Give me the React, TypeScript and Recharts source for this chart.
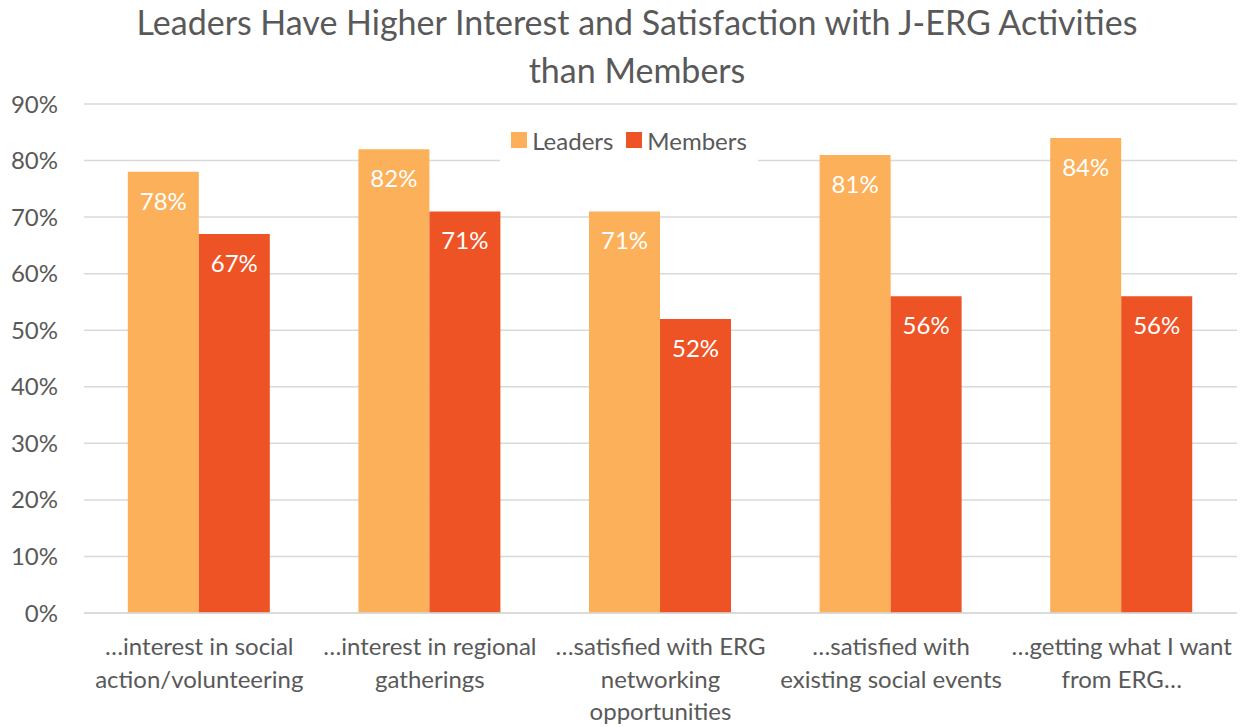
import React from 'react';
import { BarChart, Bar, XAxis, YAxis, CartesianGrid, LabelList } from 'recharts';

const categories = [
  '…interest in social\naction/volunteering',
  '…interest in regional\ngatherings',
  '…satisfied with ERG\nnetworking\nopportunities',
  '…satisfied with\nexisting social events',
  '…getting what I want\nfrom ERG…',
];
const leaders = [78, 82, 71, 81, 84];
const members = [67, 71, 52, 56, 56];
const yTicks = [0, 10, 20, 30, 40, 50, 60, 70, 80, 90];

const data = categories.map((name, i) => ({ name, leaders: leaders[i], members: members[i] }));

const FONT = 'Lato, "Open Sans", sans-serif';
const TEXT = '#595959';
const LEADER_COLOR = '#FCB05A';
const MEMBER_COLOR = '#EE5325';

function CategoryTick(props: any) {
  const { x, y, payload } = props;
  const lines = String(payload.value).split('\n');
  return (
    <text x={x} y={y} textAnchor="middle" fill={TEXT} fontSize={24} fontFamily={FONT}>
      {lines.map((line, i) => (
        <tspan key={i} x={x} dy={i === 0 ? 34 : 32.5}>
          {line}
        </tspan>
      ))}
    </text>
  );
}

// legend sits on top of the plot with a white box hiding the 80% gridline
function LegendBox() {
  const items = [
    { label: 'Leaders', color: LEADER_COLOR },
    { label: 'Members', color: MEMBER_COLOR },
  ];
  return (
    <div
      style={{
        position: 'absolute',
        top: 117,
        left: 500,
        width: 258,
        height: 46,
        display: 'flex',
        justifyContent: 'center',
        alignItems: 'center',
        gap: 13,
        background: '#fff',
        fontFamily: FONT,
        fontSize: 24,
        color: TEXT,
      }}
    >
      {items.map((it) => (
        <div key={it.label} style={{ display: 'flex', alignItems: 'center', gap: 5 }}>
          <span style={{ width: 16, height: 16, background: it.color, display: 'inline-block' }} />
          <span>{it.label}</span>
        </div>
      ))}
    </div>
  );
}

export default function App() {
  return (
    <div style={{ position: 'absolute', left: 0, top: 0, width: 1252, height: 727, background: '#fff' }}>
      <div
        style={{
          position: 'absolute',
          left: 11,
          top: -2,
          width: 1252,
          textAlign: 'center',
          fontFamily: FONT,
          fontSize: 34,
          lineHeight: '48px',
          color: TEXT,
        }}
      >
        Leaders Have Higher Interest and Satisfaction with J-ERG Activities
        <br />
        than Members
      </div>
      <div style={{ position: 'absolute', left: 0, top: 0 }}>
        <BarChart
          width={1252}
          height={727}
          data={data}
          margin={{ top: 104, right: 15, bottom: 0, left: 0 }}
          barCategoryGap="19%"
          barGap={0}
        >
          <CartesianGrid vertical={false} stroke="#d9d9d9" strokeWidth={1.5} />
          <XAxis
            dataKey="name"
            height={114}
            interval={0}
            axisLine={{ stroke: '#d9d9d9', strokeWidth: 1.5 }}
            tickLine={false}
            tick={<CategoryTick />}
          />
          <YAxis
            width={84}
            domain={[0, 90]}
            ticks={yTicks}
            axisLine={false}
            tickLine={false}
            tickSize={0}
            tickMargin={26}
            tickFormatter={(v: number) => `${v}%`}
            tick={{ fill: TEXT, fontSize: 24, fontFamily: FONT }}
          />
          <Bar dataKey="leaders" name="Leaders" fill={LEADER_COLOR} isAnimationActive={false}>
            <LabelList
              dataKey="leaders"
              position="insideTop"
              offset={21}
              formatter={(v: any) => `${v}%`}
              fill="#fff"
              fontSize={24}
              fontFamily={FONT}
            />
          </Bar>
          <Bar dataKey="members" name="Members" fill={MEMBER_COLOR} isAnimationActive={false}>
            <LabelList
              dataKey="members"
              position="insideTop"
              offset={21}
              formatter={(v: any) => `${v}%`}
              fill="#fff"
              fontSize={24}
              fontFamily={FONT}
            />
          </Bar>
        </BarChart>
      </div>
      <LegendBox />
    </div>
  );
}
